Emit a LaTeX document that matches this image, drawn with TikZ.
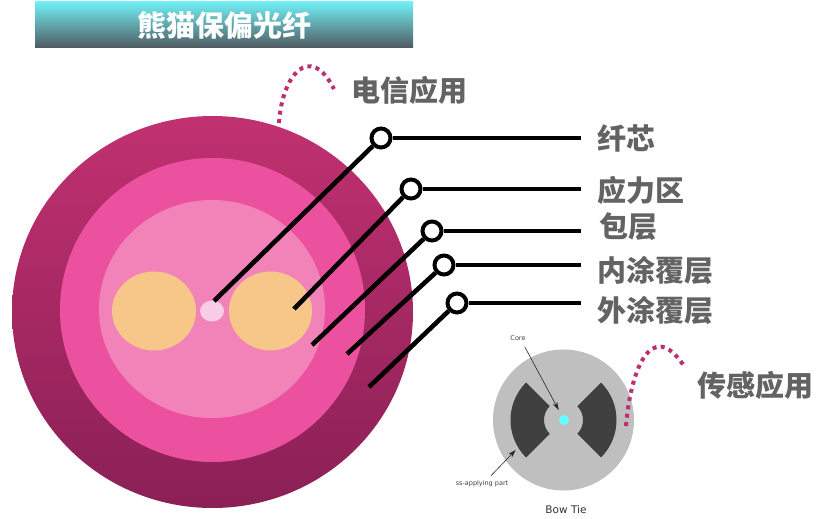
\documentclass[tikz,border=0pt]{standalone}
\usepackage{fontspec}
\setmainfont{Noto Sans CJK SC}
\newfontfamily\latinfont{DejaVu Sans}
\usepackage{tikz}
\usetikzlibrary{arrows.meta,positioning,shapes.geometric}
\definecolor{ringtop}{HTML}{C13170}
\definecolor{ringbot}{HTML}{8A2056}
\definecolor{ringmid}{HTML}{EC519F}
\definecolor{ringin}{HTML}{F283B8}
\definecolor{stressc}{HTML}{F6C788}
\definecolor{corec}{HTML}{F7CDE6}
\definecolor{labelc}{HTML}{636363}
\definecolor{dotc}{HTML}{BC3070}
\definecolor{titletop}{HTML}{70F0F6}
\definecolor{titlemid}{HTML}{4F9CA4}
\definecolor{titlebot}{HTML}{505A60}
\definecolor{bowcyan}{HTML}{66FFFF}
\tikzset{disc/.style={ellipse,inner sep=0,outer sep=0},
         pin/.style={circle,draw=black,line width=4pt,fill=white,inner sep=0,minimum size=19pt},
         leader/.style={draw=black,line width=4.6pt},
         lbl/.style={text=labelc,font=\fontsize{29}{29}\selectfont\bfseries,anchor=west,inner sep=0},
         tinylbl/.style={text=black!75,font=\latinfont\fontsize{6.5}{7}\selectfont,inner sep=0},
         thinarrow/.style={draw=black!85,line width=.6pt,-{Stealth[length=8pt,width=5pt]}},
         dots/.style={draw=dotc,line width=4pt,dash pattern=on 4pt off 4.4pt}}
\begin{document}
\begin{tikzpicture}[x=1pt,y=-1pt]
\useasboundingbox (0,0) rectangle (830,519);
% title
\node[rectangle,minimum width=378pt,minimum height=46pt,inner sep=0,top color=titletop,middle color=titlemid,bottom color=titlebot,text=white,
      font=\fontsize{29}{29}\selectfont\bfseries] (title) at (224,25) {熊猫保偏光纤};
% big fibre
\node[disc,minimum width=401pt,minimum height=392pt,top color=ringtop,bottom color=ringbot] (outer) at (212.5,312) {};
\node[disc,minimum width=305pt,minimum height=304pt,fill=ringmid] (mid) at (212.5,310) {};
\node[disc,minimum width=226pt,minimum height=218pt,fill=ringin] (inner) at (212,309) {};
\node[disc,minimum width=84pt,minimum height=79pt,fill=stressc] (stressL) at (154,311) {};
\node[disc,minimum width=83pt,minimum height=79pt,fill=stressc] (stressR) at (270.5,311) {};
\node[disc,minimum width=24pt,minimum height=21pt,fill=corec] (core) at (212,311) {};
% leaders
\coordinate (tipA) at (214,301);
\coordinate (tipB) at (294,309);
\coordinate (tipC) at (312,345);
\coordinate (tipD) at (347,354);
\coordinate (tipE) at (369,387);
\coordinate (endA) at (581,138);
\coordinate (endB) at (581,189);
\coordinate (endC) at (581,231);
\coordinate (endD) at (581,265);
\coordinate (endE) at (581,303);
\node[pin] (pinA) at (381,138) {};
\node[pin] (pinB) at (411,189) {};
\node[pin] (pinC) at (432,231) {};
\node[pin] (pinD) at (444,265) {};
\node[pin] (pinE) at (457,303) {};
\draw[leader] (tipA) -- (pinA);
\draw[leader] (pinA) -- (endA);
\draw[leader] (tipB) -- (pinB);
\draw[leader] (pinB) -- (endB);
\draw[leader] (tipC) -- (pinC);
\draw[leader] (pinC) -- (endC);
\draw[leader] (tipD) -- (pinD);
\draw[leader] (pinD) -- (endD);
\draw[leader] (tipE) -- (pinE);
\draw[leader] (pinE) -- (endE);
\node[lbl] (lblA) at (597,138) {纤芯};
\node[lbl] (lblB) at (597,190) {应力区};
\node[lbl] (lblC) at (599,227) {包层};
\node[lbl] (lblD) at (597,270) {内涂覆层};
\node[lbl] (lblE) at (597,310) {外涂覆层};
\node[lbl] (lblTel) at (351,90) {电信应用};
\node[lbl] (lblSen) at (697,385) {传感应用};
% bow tie
\node[circle,fill=black!25,minimum size=141pt,inner sep=0,outer sep=0] (bow) at (563.5,420) {};
\fill[black!75] (bow.center) ++(135:19.5) arc[start angle=135,end angle=225,radius=19.5] -- ++(225:33.5) arc[start angle=225,end angle=135,radius=53] -- cycle;
\fill[black!75] (bow.center) ++(45:19.5) arc[start angle=45,end angle=-45,radius=19.5] -- ++(-45:33.5) arc[start angle=-45,end angle=45,radius=53] -- cycle;
\node[circle,fill=bowcyan,minimum size=10pt,inner sep=0] (bowcore) at (564,420) {};
\node[tinylbl] (lblCore) at (518,338) {Core};
\node[tinylbl] (lblPart) at (482,484) {ss-applying part};
\node[text=black!80,font=\latinfont\fontsize{10.5}{11}\selectfont,inner sep=0] (lblBow) at (566,510) {Bow Tie};
\coordinate (coreTail) at (524.7,346.7);
\coordinate (coreHead) at (558.7,410);
\coordinate (partTail) at (491,475.7);
\coordinate (partHead) at (515.7,450);
\draw[thinarrow] (coreTail) -- (coreHead);
\draw[thinarrow] (partTail) -- (partHead);
% dotted curves
\coordinate (telA) at (279,123);
\coordinate (telB) at (334,89);
\coordinate (senA) at (626,426);
\coordinate (senB) at (684,366);
\draw[dots] (telA) .. controls (282,75) and (310,42) .. (telB);
\draw[dots] (senA) .. controls (630,375) and (650,315) .. (senB);
\end{tikzpicture}
\end{document}
